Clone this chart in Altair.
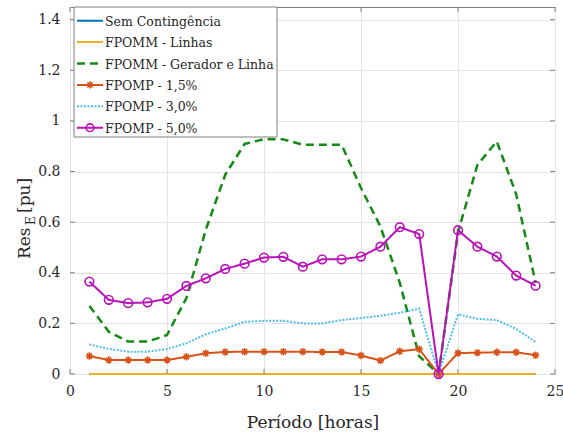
import altair as alt
import pandas as pd

# Hourly reserve values per scenario
hours = list(range(1, 25))

sem_contingencia = [0.0, 0.0, 0.0, 0.0, 0.0, 0.0, 0.0, 0.0, 0.0, 0.0, 0.0, 0.0,
                    0.0, 0.0, 0.0, 0.0, 0.0, 0.0, 0.0, 0.0, 0.0, 0.0, 0.0, 0.0]
fpomm_linhas = [0.0, 0.0, 0.0, 0.0, 0.0, 0.0, 0.0, 0.0, 0.0, 0.0, 0.0, 0.0,
                0.0, 0.0, 0.0, 0.0, 0.0, 0.0, 0.0, 0.0, 0.0, 0.0, 0.0, 0.0]
fpomm_gerador_linha = [0.269, 0.167, 0.128, 0.128, 0.154, 0.300, 0.570, 0.787,
                       0.909, 0.928, 0.927, 0.906, 0.906, 0.906, 0.735, 0.583,
                       0.360, 0.070, 0.0, 0.560, 0.826, 0.919, 0.710, 0.360]
fpomp_15 = [0.071, 0.055, 0.055, 0.055, 0.055, 0.068, 0.082, 0.087, 0.088, 0.088,
            0.088, 0.088, 0.087, 0.087, 0.073, 0.053, 0.090, 0.098, 0.0, 0.083,
            0.084, 0.086, 0.086, 0.074]
fpomp_30 = [0.117, 0.099, 0.088, 0.088, 0.099, 0.121, 0.157, 0.180, 0.206, 0.210,
            0.210, 0.200, 0.200, 0.213, 0.221, 0.230, 0.242, 0.258, 0.0, 0.236,
            0.218, 0.213, 0.178, 0.126]
fpomp_50 = [0.365, 0.293, 0.280, 0.283, 0.297, 0.348, 0.378, 0.415, 0.436, 0.460,
            0.463, 0.424, 0.453, 0.453, 0.464, 0.503, 0.580, 0.553, 0.0, 0.568,
            0.503, 0.464, 0.389, 0.349]

series_names = ["Sem Contingência", "FPOMM - Linhas", "FPOMM - Gerador e Linha",
                "FPOMP - 1,5%", "FPOMP - 3,0%", "FPOMP - 5,0%"]
series_values = [sem_contingencia, fpomm_linhas, fpomm_gerador_linha,
                 fpomp_15, fpomp_30, fpomp_50]

x_ticks = [0, 5, 10, 15, 20, 25]
y_ticks = [0, 0.2, 0.4, 0.6, 0.8, 1.0, 1.2, 1.4]

# Drawing styles per series
colors = ["#0072BD", "#EDB120", "#138A13", "#D95319", "#4DBEEE", "#B812B8"]
dashes = [[1, 0], [1, 0], [8, 5], [1, 0], [2, 1.5], [1, 0]]
widths = [2.0, 2.0, 2.5, 2.0, 2.0, 2.0]
markers = [None, None, None, "asterisk", None, "circle"]

FONT = "DejaVu Serif"
W, H = 485, 367
PAD_L, PAD_T = 70, 7

rows = []
for name, vals in zip(series_names, series_values):
    for h, v in zip(hours, vals):
        rows.append({"serie": name, "hora": h, "res": v})
df = pd.DataFrame(rows)

x_scale = alt.Scale(domain=[0, 25], nice=False, zero=False)
y_scale = alt.Scale(domain=[0, 1.45], nice=False)

asterisk_path = ("M-1,0L1,0M0,-1L0,1M-0.7,-0.7L0.7,0.7M-0.7,0.7L0.7,-0.7")

base = alt.Chart(df)

# Grid and axis labels
axes_layer = alt.Chart(pd.DataFrame({"hora": [0], "res": [0]})).mark_point(opacity=0).encode(
    x=alt.X("hora:Q", scale=x_scale,
            axis=alt.Axis(values=x_ticks, title="Período [horas]", format="d",
                          ticks=False, domain=False, labelPadding=10,
                          titlePadding=16, titleFontSize=17, titleFontWeight="normal",
                          titleFont=FONT, labelFont=FONT, labelFontSize=14,
                          labelColor="#262626", titleColor="#262626",
                          gridColor="#e4e4e4", labelFlush=False)),
    y=alt.Y("res:Q", scale=y_scale,
            axis=alt.Axis(values=y_ticks, title=None, ticks=False, domain=False,
                          format=".1~f",
                          labelPadding=10, labelFont=FONT, labelFontSize=14,
                          labelColor="#262626", gridColor="#e4e4e4")),
)

layers = [axes_layer]

for name, color, dash, width, marker in zip(series_names, colors, dashes, widths, markers):
    sel = base.transform_filter(alt.datum.serie == name)
    layers.append(
        sel.mark_line(color=color, strokeDash=dash, strokeWidth=width).encode(
            x=alt.X("hora:Q", scale=x_scale),
            y=alt.Y("res:Q", scale=y_scale),
        )
    )
    if marker == "asterisk":
        layers.append(
            sel.mark_point(shape=asterisk_path, filled=False, color=color,
                           strokeWidth=1.6, size=55, opacity=1).encode(
                x=alt.X("hora:Q", scale=x_scale),
                y=alt.Y("res:Q", scale=y_scale),
            )
        )
    elif marker == "circle":
        layers.append(
            sel.mark_point(shape="circle", filled=False, color=color,
                           strokeWidth=1.6, size=75, opacity=1).encode(
                x=alt.X("hora:Q", scale=x_scale),
                y=alt.Y("res:Q", scale=y_scale),
            )
        )

# Inward ticks on all four sides
tick_len = 5
xt = alt.Chart(pd.DataFrame({"t": x_ticks}))
layers.append(xt.mark_rule(color="#7f7f7f", strokeWidth=1).encode(
    x=alt.X("t:Q", scale=x_scale), y=alt.value(H), y2=alt.value(H - tick_len)))
layers.append(xt.mark_rule(color="#7f7f7f", strokeWidth=1).encode(
    x=alt.X("t:Q", scale=x_scale), y=alt.value(0), y2=alt.value(tick_len)))
yt = alt.Chart(pd.DataFrame({"t": y_ticks}))
layers.append(yt.mark_rule(color="#7f7f7f", strokeWidth=1).encode(
    y=alt.Y("t:Q", scale=y_scale), x=alt.value(0), x2=alt.value(tick_len)))
layers.append(yt.mark_rule(color="#7f7f7f", strokeWidth=1).encode(
    y=alt.Y("t:Q", scale=y_scale), x=alt.value(W), x2=alt.value(W - tick_len)))

# Legend box
one = pd.DataFrame({"a": [0]})
layers.append(alt.Chart(one).mark_rect(fill="white", stroke="#7f7f7f", strokeWidth=1).encode(
    x=alt.value(4), x2=alt.value(207), y=alt.value(0), y2=alt.value(130)))

row_gap = 21.4
row0 = 13.7
for i, (name, color, dash, width, marker) in enumerate(
        zip(series_names, colors, dashes, widths, markers)):
    yy = row0 + row_gap * i
    lc = alt.Chart(one)
    layers.append(lc.mark_rule(color=color, strokeDash=dash, strokeWidth=width).encode(
        x=alt.value(7), x2=alt.value(33), y=alt.value(yy)))
    if marker == "asterisk":
        layers.append(lc.mark_point(shape=asterisk_path, filled=False, color=color,
                                    strokeWidth=1.6, size=55, opacity=1).encode(
            x=alt.value(20), y=alt.value(yy)))
    elif marker == "circle":
        layers.append(lc.mark_point(shape="circle", filled=False, color=color,
                                    strokeWidth=1.6, size=60, opacity=1).encode(
            x=alt.value(20), y=alt.value(yy)))
    layers.append(lc.mark_text(text=name, font=FONT, fontSize=12.5, color="#262626",
                               align="left", baseline="middle").encode(
        x=alt.value(35), y=alt.value(yy + 1)))

# Y title with subscript
ylab_x = -45
layers.append(alt.Chart(one).mark_text(text="Res", font=FONT, fontSize=17, angle=270,
                                       color="#262626", align="left",
                                       baseline="middle").encode(
    x=alt.value(ylab_x), y=alt.value(252)))
layers.append(alt.Chart(one).mark_text(text="E", font=FONT, fontSize=12, angle=270,
                                       color="#262626", align="left",
                                       baseline="middle").encode(
    x=alt.value(ylab_x + 6), y=alt.value(218)))
layers.append(alt.Chart(one).mark_text(text="[pu]", font=FONT, fontSize=17, angle=270,
                                       color="#262626", align="left",
                                       baseline="middle").encode(
    x=alt.value(ylab_x), y=alt.value(206)))

chart = alt.layer(*layers).properties(
    width=W, height=H,
    autosize=alt.AutoSizeParams(type="none"),
    padding={"left": PAD_L, "top": PAD_T, "right": 563 - PAD_L - W, "bottom": 437 - PAD_T - H},
    background="white",
).configure_view(stroke="#7f7f7f", strokeWidth=1)

chart.save("out.html", embed_options={"renderer": "svg", "actions": False})
